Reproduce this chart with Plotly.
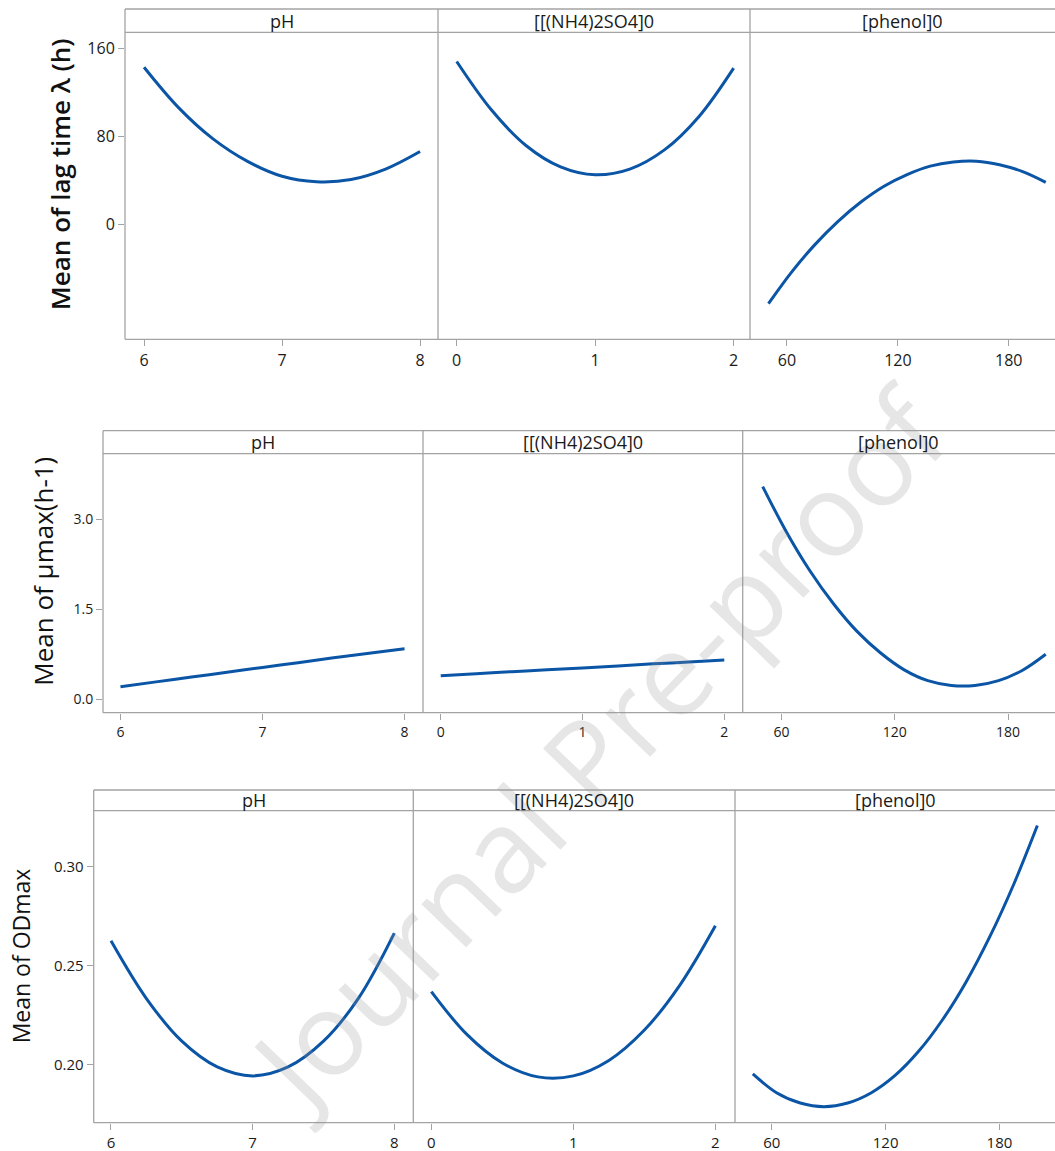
import plotly.graph_objects as go

# ---------------- data ----------------
ph_x = [6.0, 6.25, 6.5, 6.75, 7.0, 7.25, 7.5, 7.75, 8.0]
nh4_x = [0.0, 0.25, 0.5, 0.75, 1.0, 1.25, 1.5, 1.75, 2.0]
phenol_x = [50, 62.5, 75, 87.5, 100, 112.5, 125, 137.5, 150, 162.5, 175, 187.5, 200]

panel_titles = ["pH", "[[(NH4)2SO4]0", "[phenol]0"]
row_titles = ["Mean of lag time λ (h)", "Mean of μmax(h-1)", "Mean of ODmax"]

lag_ph = [142.8, 106.0, 77.5, 57.0, 43.5, 38.5, 40.5, 50.0, 66.0]
lag_nh4 = [148.0, 104.0, 71.5, 52.0, 44.8, 50.0, 67.5, 98.0, 142.0]
lag_phenol = [-72.5, -43.8, -19.0, 2.2, 20.0, 34.4, 45.0, 52.7, 56.5, 57.2, 54.0, 47.7, 38.0]

mu_ph = [0.21, 0.29, 0.37, 0.45, 0.53, 0.61, 0.69, 0.765, 0.84]
mu_nh4 = [0.39, 0.425, 0.46, 0.49, 0.52, 0.555, 0.59, 0.62, 0.655]
mu_phenol = [3.54, 2.79, 2.14, 1.59, 1.13, 0.77, 0.49, 0.31, 0.23, 0.23, 0.31, 0.48, 0.75]

od_ph = [0.2626, 0.2335, 0.212, 0.199, 0.1945, 0.199, 0.212, 0.234, 0.2665]
od_nh4 = [0.237, 0.2154, 0.201, 0.194, 0.1945, 0.2023, 0.2176, 0.2403, 0.2702]
od_phenol = [0.1955, 0.186, 0.1808, 0.179, 0.1808, 0.186, 0.1947, 0.207, 0.2228,
             0.242, 0.2648, 0.291, 0.3207]

lag_ticks = [0, 80, 160]
lag_ticktext = ["0", "80", "160"]
mu_ticks = [0.0, 1.5, 3.0]
mu_ticktext = ["0.0", "1.5", "3.0"]
od_ticks = [0.20, 0.25, 0.30]
od_ticktext = ["0.20", "0.25", "0.30"]
ph_ticks = [6, 7, 8]
nh4_ticks = [0, 1, 2]
phenol_ticks = [60, 120, 180]

watermark = "Journal Pre-proof"

# ---------------- layout geometry (pixels) ----------------
W, H = 1055, 1151
LINE = "#0B55A6"
FRAME = "#A3A3A3"
FONT = "Open Sans"

rows = [
    dict(hdr=9.0, top=32.3, bot=339.3, xs=[125, 438, 750, 1055],
         yrange=[-105, 174.6], yt=lag_ticks, ytt=lag_ticktext,
         xr=[[5.862, 8.13], [-0.135, 2.118], [40.0, 205.0]],
         ys=[lag_ph, lag_nh4, lag_phenol], tickfont=16, xtickfont=16,
         title=row_titles[0], tx=60, tsize=26, tbold=True),
    dict(hdr=430.7, top=453.7, bot=712.7, xs=[103, 423, 742.7, 1055],
         yrange=[-0.223, 4.087], yt=mu_ticks, ytt=mu_ticktext,
         xr=[[5.877, 8.13], [-0.125, 2.13], [39.4, 204.9]],
         ys=[mu_ph, mu_nh4, mu_phenol], tickfont=14, xtickfont=14,
         title=row_titles[1], tx=43, tsize=26, tbold=False),
    dict(hdr=790.0, top=810.7, bot=1122.7, xs=[93.7, 413.3, 735, 1055],
         yrange=[0.1709, 0.3282], yt=od_ticks, ytt=od_ticktext,
         xr=[[5.878, 8.134], [-0.127, 2.138], [40.6, 209.3]],
         ys=[od_ph, od_nh4, od_phenol], tickfont=15, xtickfont=15,
         title=row_titles[2], tx=21, tsize=23, tbold=False),
]
xs_data = [ph_x, nh4_x, phenol_x]
xticks = [ph_ticks, nh4_ticks, phenol_ticks]


def px(x):
    return x / W


def py(y):
    return 1 - y / H


fig = go.Figure()
layout = dict(width=W, height=H, margin=dict(l=0, r=0, t=0, b=0),
              paper_bgcolor="white", plot_bgcolor="white", showlegend=False)
shapes = []
annotations = []

# watermark (drawn first so other annotations sit over it)
annotations.append(dict(text=watermark, xref="paper", yref="paper",
                        x=px(596), y=py(748), textangle=-46, showarrow=False,
                        xanchor="center", yanchor="middle",
                        font=dict(family=FONT, size=116, color="rgba(150,150,150,0.24)")))

k = 0
for r, row in enumerate(rows):
    xs = row["xs"]
    for yy in (row["hdr"], row["top"], row["bot"]):
        shapes.append(dict(type="line", xref="paper", yref="paper",
                           x0=px(xs[0]), x1=1, y0=py(yy), y1=py(yy),
                           line=dict(color=FRAME, width=1.3)))
    for xx in xs[:3]:
        shapes.append(dict(type="line", xref="paper", yref="paper",
                           x0=px(xx), x1=px(xx), y0=py(row["hdr"]), y1=py(row["bot"]),
                           line=dict(color=FRAME, width=1.3)))
    annotations.append(dict(text=row["title"], xref="paper", yref="paper",
                            x=px(row["tx"]), y=py((row["hdr"] + row["bot"]) / 2),
                            textangle=-90, showarrow=False, xanchor="center", yanchor="middle",
                            font=dict(family=FONT, size=row["tsize"], color="#111111",
                                      weight=600 if row["tbold"] else 400)))
    for c in range(3):
        k += 1
        xa = "xaxis" if k == 1 else f"xaxis{k}"
        ya = "yaxis" if k == 1 else f"yaxis{k}"
        xref = "x" if k == 1 else f"x{k}"
        yref = "y" if k == 1 else f"y{k}"
        layout[xa] = dict(domain=[px(xs[c]), px(xs[c + 1])], range=row["xr"][c],
                          anchor=yref, showgrid=False, zeroline=False, showline=False,
                          tickvals=xticks[c], ticks="outside", ticklen=6, tickwidth=1,
                          tickcolor=FRAME,
                          tickfont=dict(family=FONT, size=row["xtickfont"], color="#1a1a1a"))
        yax = dict(domain=[py(row["bot"]), py(row["top"])], range=row["yrange"],
                   anchor=xref, showgrid=False, zeroline=False, showline=False)
        if c == 0:
            yax.update(tickvals=row["yt"], ticktext=row["ytt"], ticks="outside",
                       ticklen=6, tickwidth=1, tickcolor=FRAME,
                       tickfont=dict(family=FONT, size=row["tickfont"], color="#1a1a1a"))
        else:
            yax.update(showticklabels=False, ticks="")
        layout[ya] = yax
        fig.add_trace(go.Scatter(x=xs_data[c], y=row["ys"][c], mode="lines",
                                 line=dict(color=LINE, width=3, shape="spline", smoothing=1.0),
                                 xaxis=xref, yaxis=yref, hoverinfo="skip"))
        annotations.append(dict(text=panel_titles[c], xref="paper", yref="paper",
                                x=px((xs[c] + xs[c + 1]) / 2),
                                y=py((row["hdr"] + row["top"]) / 2),
                                showarrow=False, xanchor="center", yanchor="middle",
                                font=dict(family=FONT, size=18, color="#1a1a1a")))

layout["shapes"] = shapes
layout["annotations"] = annotations
fig.update_layout(**layout)

fig.write_html("out.html", config={"displayModeBar": False},
               post_script="document.body.style.margin='0';")
